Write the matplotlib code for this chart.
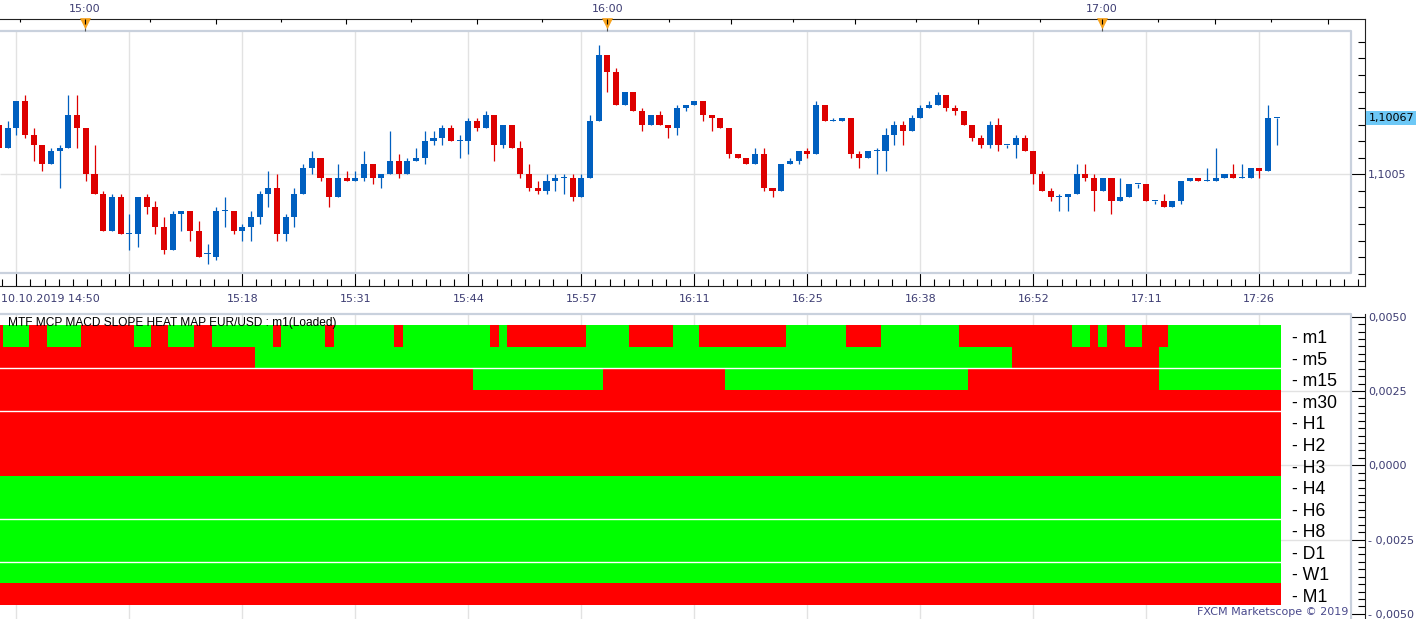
import numpy as np
import matplotlib
matplotlib.use('Agg')
import matplotlib.pyplot as plt
from matplotlib.colors import ListedColormap
from matplotlib.ticker import FixedLocator, MultipleLocator, FuncFormatter

# EUR/USD m1 candles, bars -2 .. 145, read in points (0.00001) above 1.10050
base_price = 1.10050
open_pts = [15, 8, 14, 22, 12, 9, 3, 7, 8, 18,
            14, 0, -6, -17, -7, -18, -18, -7, -10, -16,
            -23, -12, -11, -17, -24, -25, -11, -11, -17, -16,
            -13, -6, -4, -18, -13, -6, 2, 5, -1, -7,
            -1, -2, -1, 3, -1, 0, 4, 0, 4, 5,
            10, 11, 14, 10, 10, 16, 14, 18, 9, 15,
            8, 0, -4, -5, -2, -1, -1, -7, -1, 16,
            36, 31, 21, 25, 19, 15, 18, 15, 14, 20,
            21, 22, 18, 17, 14, 6, 5, 3, 6, -4,
            -5, 3, 4, 7, 6, 21, 16, 16, 17, 6,
            5, 7, 7, 12, 15, 13, 17, 20, 21, 24,
            20, 19, 15, 11, 9, 15, 9, 9, 11, 7,
            0, -5, -7, -7, -6, 0, -1, -5, -1, -8,
            -7, -3, -3, -8, -8, -10, -8, -2, -1, -2,
            -2, -1, 0, -1, -1, 2, 1, 17]
high_pts = [15, 16, 22, 24, 14, 9, 8, 9, 24, 24,
            14, 9, -5, -6, -6, -12, -7, -6, -8, -13,
            -11, -11, -11, -14, -21, -10, -7, -11, -15, -11,
            -5, 1, 0, -12, -4, 3, 7, 5, -1, 3,
            1, 1, 7, 3, 0, 13, 6, 5, 8, 13,
            13, 15, 15, 12, 17, 17, 19, 18, 15, 15,
            10, 3, -2, 0, 0, 0, 0, 0, 18, 39,
            36, 32, 25, 25, 20, 18, 19, 15, 21, 21,
            22, 22, 18, 17, 14, 6, 5, 8, 8, -4,
            3, 5, 7, 8, 22, 21, 17, 17, 17, 7,
            7, 8, 14, 16, 16, 18, 21, 22, 25, 24,
            21, 19, 15, 12, 16, 17, 9, 12, 12, 7,
            1, -4, -6, -6, 3, 3, 0, -1, -1, -1,
            -3, -3, -3, -8, -6, -8, -2, -1, -1, 2,
            8, 0, 3, 3, 2, 2, 21, 17]
low_pts = [8, 8, 12, 11, 4, 1, 3, -4, 8, 8,
           -2, -6, -17, -17, -18, -23, -22, -12, -18, -24,
           -23, -17, -20, -25, -27, -26, -16, -18, -20, -20,
           -15, -10, -20, -20, -16, -6, 0, -2, -10, -7,
           -2, -2, -2, -3, -4, 0, -1, 0, 4, 3,
           9, 9, 10, 5, 6, 13, 14, 4, 8, 8,
           -1, -5, -6, -6, -5, -6, -8, -7, -1, 16,
           25, 21, 21, 19, 13, 15, 15, 11, 12, 19,
           21, 16, 13, 14, 5, 5, 3, 3, -5, -7,
           -5, 3, 3, 5, 6, 16, 16, 16, 5, 2,
           5, 0, 1, 9, 9, 13, 17, 20, 21, 19,
           18, 15, 10, 8, 8, 7, 8, 5, 7, -3,
           -5, -8, -11, -11, -6, -2, -11, -5, -12, -8,
           -7, -4, -8, -9, -10, -10, -9, -2, -2, -2,
           -2, -1, -1, -1, -1, -1, 1, 9]
close_pts = [8, 14, 22, 12, 9, 3, 7, 8, 18, 14,
             0, -6, -17, -7, -18, -18, -7, -10, -16, -23,
             -12, -11, -17, -25, -24, -11, -11, -17, -16, -13,
             -6, -4, -18, -13, -6, 2, 5, -1, -7, -1,
             -2, -1, 3, -1, 0, 4, 0, 4, 5, 10,
             11, 14, 10, 10, 16, 14, 18, 9, 15, 8,
             0, -4, -5, -2, -1, -1, -7, -1, 16, 36,
             31, 21, 25, 19, 15, 18, 15, 14, 20, 21,
             22, 18, 17, 14, 6, 5, 3, 6, -4, -5,
             3, 4, 7, 6, 21, 16, 16, 17, 6, 5,
             7, 7, 12, 15, 13, 17, 20, 21, 24, 20,
             19, 15, 11, 9, 15, 9, 9, 11, 7, 0,
             -5, -7, -7, -6, 0, -1, -5, -1, -8, -7,
             -3, -3, -8, -8, -10, -8, -2, -1, -2, -2,
             -1, 0, -1, -1, 2, 1, 17, 17]

# time axis: a grid line every 13 bars
bottom_labels = ['10.10.2019 14:50', '', '15:18', '15:31', '15:44', '15:57',
                 '16:11', '16:25', '16:38', '16:52', '17:11', '17:26']
hour_labels = ['15:00', '16:00', '17:00']
hour_bars = [7.9, 68.0, 124.9]

# heat map rows, runs of (colour, number of bars)
tf_names = ['m1', 'm5', 'm15', 'm30', 'H1', 'H2', 'H3', 'H4', 'H6', 'H8', 'D1', 'W1', 'M1']
m1_runs = [('R', 1), ('G', 3), ('R', 2), ('G', 4), ('R', 6), ('G', 2), ('R', 2), ('G', 3),
           ('R', 2), ('G', 7), ('R', 1), ('G', 5), ('R', 1), ('G', 7), ('R', 1), ('G', 10),
           ('R', 1), ('G', 1), ('R', 9), ('G', 5), ('R', 5), ('G', 3), ('R', 10), ('G', 7),
           ('R', 4), ('G', 9), ('R', 13), ('G', 2), ('R', 1), ('G', 1), ('R', 2), ('G', 2),
           ('R', 3), ('G', 13)]
m5_runs = [('R', 30), ('G', 87), ('R', 17), ('G', 14)]
m15_runs = [('R', 55), ('G', 15), ('R', 14), ('G', 28), ('R', 22), ('G', 14)]
fixed_rows = ['R', 'R', 'R', 'R', 'G', 'G', 'G', 'G', 'G', 'R']   # m30 .. M1

W, H = 1423, 619
lab_col = '#3d3d73'
frame_col = '#c9d1dd'
grid_col = '#e2e2e2'

bars = np.arange(-2, 146)
o = base_price + np.array(open_pts) / 1e5
h = base_price + np.array(high_pts) / 1e5
l = base_price + np.array(low_pts) / 1e5
c = base_price + np.array(close_pts) / 1e5


def box(left, top, right, bottom):
    return [left / W, 1 - bottom / H, (right - left) / W, (bottom - top) / H]


def bar_at(px):
    return (px - 16.3) / 8.692


fig = plt.figure(figsize=(W / 100, H / 100), dpi=100)
ax1 = fig.add_axes(box(0, 18.7, 1365, 286))
ax2 = fig.add_axes(box(0, 314, 1365, 619))
ax3 = fig.add_axes(box(0, 325, 1365, 605))
xlim = (bar_at(0), bar_at(1365))
inner_right = 1351 / 1365

# ---- candles ----
ax1.set_xlim(xlim)
ax1.set_ylim(base_price - 33.73e-5, base_price + 46.99e-5)
cols = np.where(c >= o, '#005fbf', '#dd0000')
ax1.vlines(bars, l, h, colors=cols, lw=0.9, zorder=3)
ax1.bar(bars, np.maximum(np.abs(c - o), 0.3e-5), bottom=np.minimum(o, c), width=0.7,
        color=cols, linewidth=0, zorder=4)

grid_bars = np.arange(len(bottom_labels)) * 13
fy0, fy1 = (286 - 273) / 267.3, (286 - 31) / 267.3
ax1.vlines(grid_bars, fy0, fy1, transform=ax1.get_xaxis_transform(), color=grid_col, lw=1, zorder=1)
ax1.hlines(1.1005, 0, inner_right, transform=ax1.get_yaxis_transform(), color=grid_col, lw=1, zorder=1)
ax1.plot([0, inner_right, inner_right, 0], [fy1, fy1, fy0, fy0], transform=ax1.transAxes,
         color=frame_col, lw=1.6, zorder=2)

for s in ['top', 'right', 'bottom']:
    ax1.spines[s].set_linewidth(0.8)
    ax1.spines[s].set_color('#222222')
ax1.spines['left'].set_visible(False)

ax1.xaxis.set_major_locator(FixedLocator(grid_bars))
ax1.set_xticklabels([''] + bottom_labels[1:])
ax1.xaxis.set_minor_locator(FixedLocator(np.arange(-1, 97) * 13 / 8))
ax1.tick_params(axis='x', which='major', direction='in', length=9.4, width=0.8, pad=5.4,
                labelsize=8, labelcolor=lab_col)
ax1.tick_params(axis='x', which='minor', direction='in', length=4.8, width=0.8)
ax1.text(0.0005, -7.5 / 267.3, bottom_labels[0], transform=ax1.transAxes, ha='left', va='top',
         fontsize=8, color=lab_col)

ax1.yaxis.tick_right()
ax1.yaxis.set_major_locator(FixedLocator([1.1005]))
ax1.yaxis.set_major_formatter(FuncFormatter(lambda v, p: f'{v:.4f}'.replace('.', ',')))
ax1.yaxis.set_minor_locator(FixedLocator([1.1005 + k * 0.00005 for k in range(-6, 9)]))
ax1.tick_params(axis='y', which='major', direction='in', length=10.3, width=0.8, pad=2.2,
                labelsize=8, labelcolor=lab_col)
ax1.tick_params(axis='y', which='minor', direction='in', length=5.3, width=0.8)

ax1.text(1.0025, c[-1], f'{c[-1]:.5f}'.replace('.', ','), transform=ax1.get_yaxis_transform(),
         ha='left', va='center', fontsize=8, color='black', clip_on=False,
         bbox=dict(boxstyle='square,pad=0.2', fc='#6dc8f6', ec='none'))

# top time axis: ticks every 7.5 minutes, hours flagged
axt = ax1.twiny()
axt.set_xlim(xlim)
for s in axt.spines.values():
    s.set_visible(False)
steps = [(hour_bars[i + 1] - hour_bars[i]) / 8 for i in range(len(hour_bars) - 1)]
steps.append(6.5)
long_t, short_t, long_lab = [], [hour_bars[0] - steps[0]], []
for i, hb in enumerate(hour_bars):
    n = 8 if i < len(hour_bars) - 1 else 5
    for k in range(n):
        t = hb + k * steps[i]
        if k % 2 == 0:
            long_t.append(t)
            long_lab.append(hour_labels[i] if k == 0 else '')
        else:
            short_t.append(t)
axt.xaxis.set_major_locator(FixedLocator(long_t))
axt.set_xticklabels(long_lab)
axt.xaxis.set_minor_locator(FixedLocator(short_t))
axt.tick_params(axis='x', which='major', direction='in', length=3.8, width=0.8, pad=3.5,
                labelsize=8, labelcolor=lab_col)
axt.tick_params(axis='x', which='minor', direction='in', length=1.9, width=0.8)
ax1.vlines(hour_bars, (286 - 31) / 267.3, (286 - 26) / 267.3, transform=ax1.get_xaxis_transform(),
           color='#555555', lw=0.8, zorder=5, clip_on=False)
ax1.plot(hour_bars, [(286 - 23.2) / 267.3] * 3, transform=ax1.get_xaxis_transform(), ls='none',
         marker='v', ms=7, color='#f7a21b', mec='#f7a21b', mew=0.5, zorder=6, clip_on=False)

# ---- lower indicator panel ----
ax2.set_xlim(xlim)
ax2.set_ylim(-0.005172, 0.0050908)
ax2.set_xticks([])
for s in ['top', 'left', 'bottom']:
    ax2.spines[s].set_visible(False)
ax2.spines['right'].set_linewidth(0.8)
ax2.spines['right'].set_color('#222222')
ax2.yaxis.tick_right()
ax2.yaxis.set_major_locator(MultipleLocator(0.0025))
ax2.yaxis.set_minor_locator(MultipleLocator(0.00025))


def osc_fmt(v, p):
    s = f'{abs(v):.4f}'.replace('.', ',')
    return '- ' + s if v < -1e-9 else s


ax2.yaxis.set_major_formatter(FuncFormatter(osc_fmt))
ax2.tick_params(axis='y', which='major', direction='in', length=10.8, width=0.8, pad=2.2,
                labelsize=8, labelcolor=lab_col)
ax2.tick_params(axis='y', which='minor', direction='in', length=5.3, width=0.8)
ax2.vlines(grid_bars, 0, 1, transform=ax2.get_xaxis_transform(), color=grid_col, lw=1)
ax2.hlines([-0.0025, 0, 0.0025], 0, inner_right, transform=ax2.get_yaxis_transform(),
           color=grid_col, lw=1)
ax2.plot([0, inner_right, inner_right], [1, 1, 0], transform=ax2.transAxes, color=frame_col,
         lw=1.6, clip_on=False)


def expand(runs):
    return np.concatenate([[1 if col == 'G' else 0] * n for col, n in runs])


rows = [expand(m1_runs), expand(m5_runs), expand(m15_runs)]
rows += [np.full(len(bars), 1 if v == 'G' else 0) for v in fixed_rows]
heat = np.array(rows)

ax3.pcolormesh(np.arange(-2.5, 146.5), np.arange(len(tf_names) + 1), heat,
               cmap=ListedColormap(['#ff0000', '#00ff00']), vmin=0, vmax=1,
               shading='flat', edgecolors='none', antialiased=False)
ax3.hlines([2, 4, 9, 11], -2.5, 145.5, color='white', lw=1)
ax3.set_xlim(xlim)
ax3.set_ylim(len(tf_names), 0)
ax3.axis('off')
ax3.patch.set_visible(False)
for r, name in enumerate(tf_names):
    ax3.text(1291.7 / 1365, r + 0.85, '- ' + name, transform=ax3.get_yaxis_transform(),
             ha='left', va='baseline', fontsize=12.7, family='Liberation Sans', clip_on=False)

fig.text(8 / W, 1 - 326 / H, 'MTF MCP MACD SLOPE HEAT MAP EUR/USD : m1(Loaded)',
         fontsize=8.6, family='Liberation Sans', va='baseline', zorder=10)
fig.text(1197 / W, 1 - 615 / H, 'FXCM Marketscope \u00a9 2019', fontsize=8, color='#4a4a8c',
         va='baseline', zorder=10, bbox=dict(fc='white', ec='none', pad=1.5))

fig.savefig('out.png', dpi=100, facecolor='white')
